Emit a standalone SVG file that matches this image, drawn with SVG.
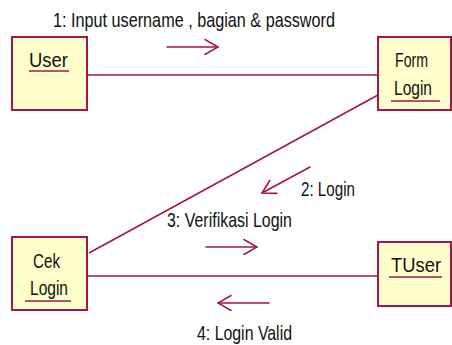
<svg xmlns="http://www.w3.org/2000/svg" width="452" height="345" viewBox="0 0 452 345">
  <style>
    .box { fill: #FFFFCC; stroke: #A3164B; stroke-width: 2; }
    .link { stroke: #A3164B; stroke-width: 1.6; fill: none; }
    .uline { stroke: #A3164B; stroke-width: 1.6; }
    .msg { stroke: #A3164B; stroke-width: 1.6; fill: none; stroke-linecap: round; stroke-linejoin: round; }
    text { font-family: "Liberation Sans", Arial, sans-serif; font-size: 21px; fill: #111; }
  </style>
  <defs>
    <marker id="open" viewBox="0 0 16 16" refX="15" refY="8" markerWidth="16" markerHeight="16" markerUnits="userSpaceOnUse" orient="auto">
      <path d="M2,0.5 L15,8 L2,15.5" fill="none" stroke="#A3164B" stroke-width="1.6" stroke-linecap="round"/>
    </marker>
  </defs>

  <!-- links between objects -->
  <g id="connectors">
    <line class="link" x1="88" y1="75" x2="378" y2="75"/>
    <line class="link" x1="378" y1="95" x2="89" y2="253"/>
    <line class="link" x1="88" y1="276" x2="378" y2="276"/>
  </g>

  <!-- messages -->
  <g id="messages">
    <line class="msg" x1="167" y1="47" x2="218" y2="47" marker-end="url(#open)"/>
    <text x="53" y="27" textLength="282" lengthAdjust="spacingAndGlyphs">1: Input username , bagian &amp; password</text>

    <line class="msg" x1="310" y1="167" x2="262" y2="193" marker-end="url(#open)"/>
    <text x="301" y="196" textLength="54" lengthAdjust="spacingAndGlyphs">2: Login</text>

    <text x="167" y="227" textLength="125" lengthAdjust="spacingAndGlyphs">3: Verifikasi Login</text>
    <line class="msg" x1="206" y1="247" x2="257" y2="247" marker-end="url(#open)"/>

    <line class="msg" x1="269" y1="303" x2="218" y2="303" marker-end="url(#open)"/>
    <text x="197" y="340" textLength="95" lengthAdjust="spacingAndGlyphs">4: Login Valid</text>
  </g>

  <g id="user">
    <rect class="box" x="12" y="37" width="75" height="73"/>
    <text x="29" y="67" textLength="39" lengthAdjust="spacingAndGlyphs">User</text>
    <line class="uline" x1="29" y1="71" x2="69" y2="71"/>
  </g>

  <g id="form-login">
    <rect class="box" x="378" y="37" width="73" height="73"/>
    <text x="395" y="67" textLength="33" lengthAdjust="spacingAndGlyphs">Form</text>
    <text x="394" y="95" textLength="38" lengthAdjust="spacingAndGlyphs">Login</text>
    <line class="uline" x1="391" y1="101" x2="440" y2="101"/>
  </g>

  <g id="cek-login">
    <rect class="box" x="12" y="237" width="75" height="73"/>
    <text x="33" y="268" textLength="27" lengthAdjust="spacingAndGlyphs">Cek</text>
    <text x="30" y="295" textLength="38" lengthAdjust="spacingAndGlyphs">Login</text>
    <line class="uline" x1="25" y1="301" x2="71" y2="301"/>
  </g>

  <g id="tuser">
    <rect class="box" x="378" y="242" width="73" height="64"/>
    <text x="391" y="272" textLength="50" lengthAdjust="spacingAndGlyphs">TUser</text>
    <line class="uline" x1="389" y1="277" x2="442" y2="277"/>
  </g>
</svg>
